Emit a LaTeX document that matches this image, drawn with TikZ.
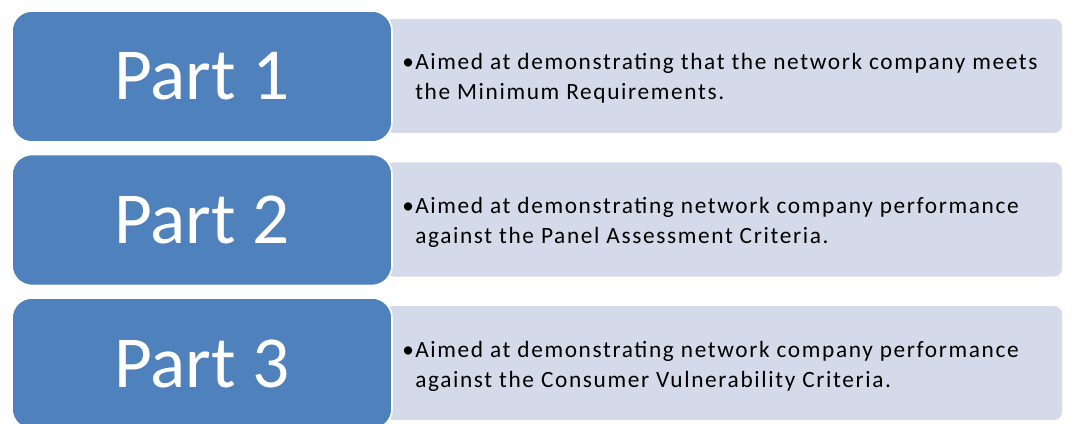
\documentclass[tikz,border=0pt]{standalone}
\usepackage{fontspec}
\setmainfont{Carlito}
\newfontfamily\notefont[LetterSpace=7]{Carlito}
\definecolor{partblue}{HTML}{4F81BD}
\definecolor{notegrey}{HTML}{D4DAEA}

\begin{document}
\begin{tikzpicture}[x = 0.75pt, y = -0.75pt,
    part/.style = {shape = rectangle, rounded corners = 15pt, fill = partblue, draw = white, line width = 1.2pt,
        minimum width = 285pt, minimum height = 98.25pt, text = white, font = \fontsize{55}{66}\selectfont},
    note/.style = {shape = rectangle, rounded corners = 6pt, fill = notegrey, minimum width = 507.75pt, minimum height = 85.5pt},
    notetext/.style = {anchor = base west, align = left, inner sep = 0pt, font = \notefont\fontsize{17.5}{22.5}\selectfont}]
    \useasboundingbox (0,0) rectangle (1075,424);
    % light boxes behind
    \node[note] (N1) at (723.5,76) {};
    \node[note] (N2) at (723.5,219.5) {};
    \node[note] (N3) at (723.5,363) {};
    % blue boxes
    \node[part] (P1) at (202,76.5) {Part 1};
    \node[part] (P2) at (202,220) {Part 2};
    \node[part] (P3) at (202,363.5) {Part 3};
    % texts (base = last line)
    \node[notetext] (T1) at (415,100) {\llap{\textbullet\hspace{1pt}}Aimed at demonstrating that the network company meets\\the Minimum Requirements.};
    \node[notetext] (T2) at (415,243.5) {\llap{\textbullet\hspace{1pt}}Aimed at demonstrating network company performance\\against the Panel Assessment Criteria.};
    \node[notetext] (T3) at (415,387) {\llap{\textbullet\hspace{1pt}}Aimed at demonstrating network company performance\\against the Consumer Vulnerability Criteria.};
\end{tikzpicture}
\end{document}
